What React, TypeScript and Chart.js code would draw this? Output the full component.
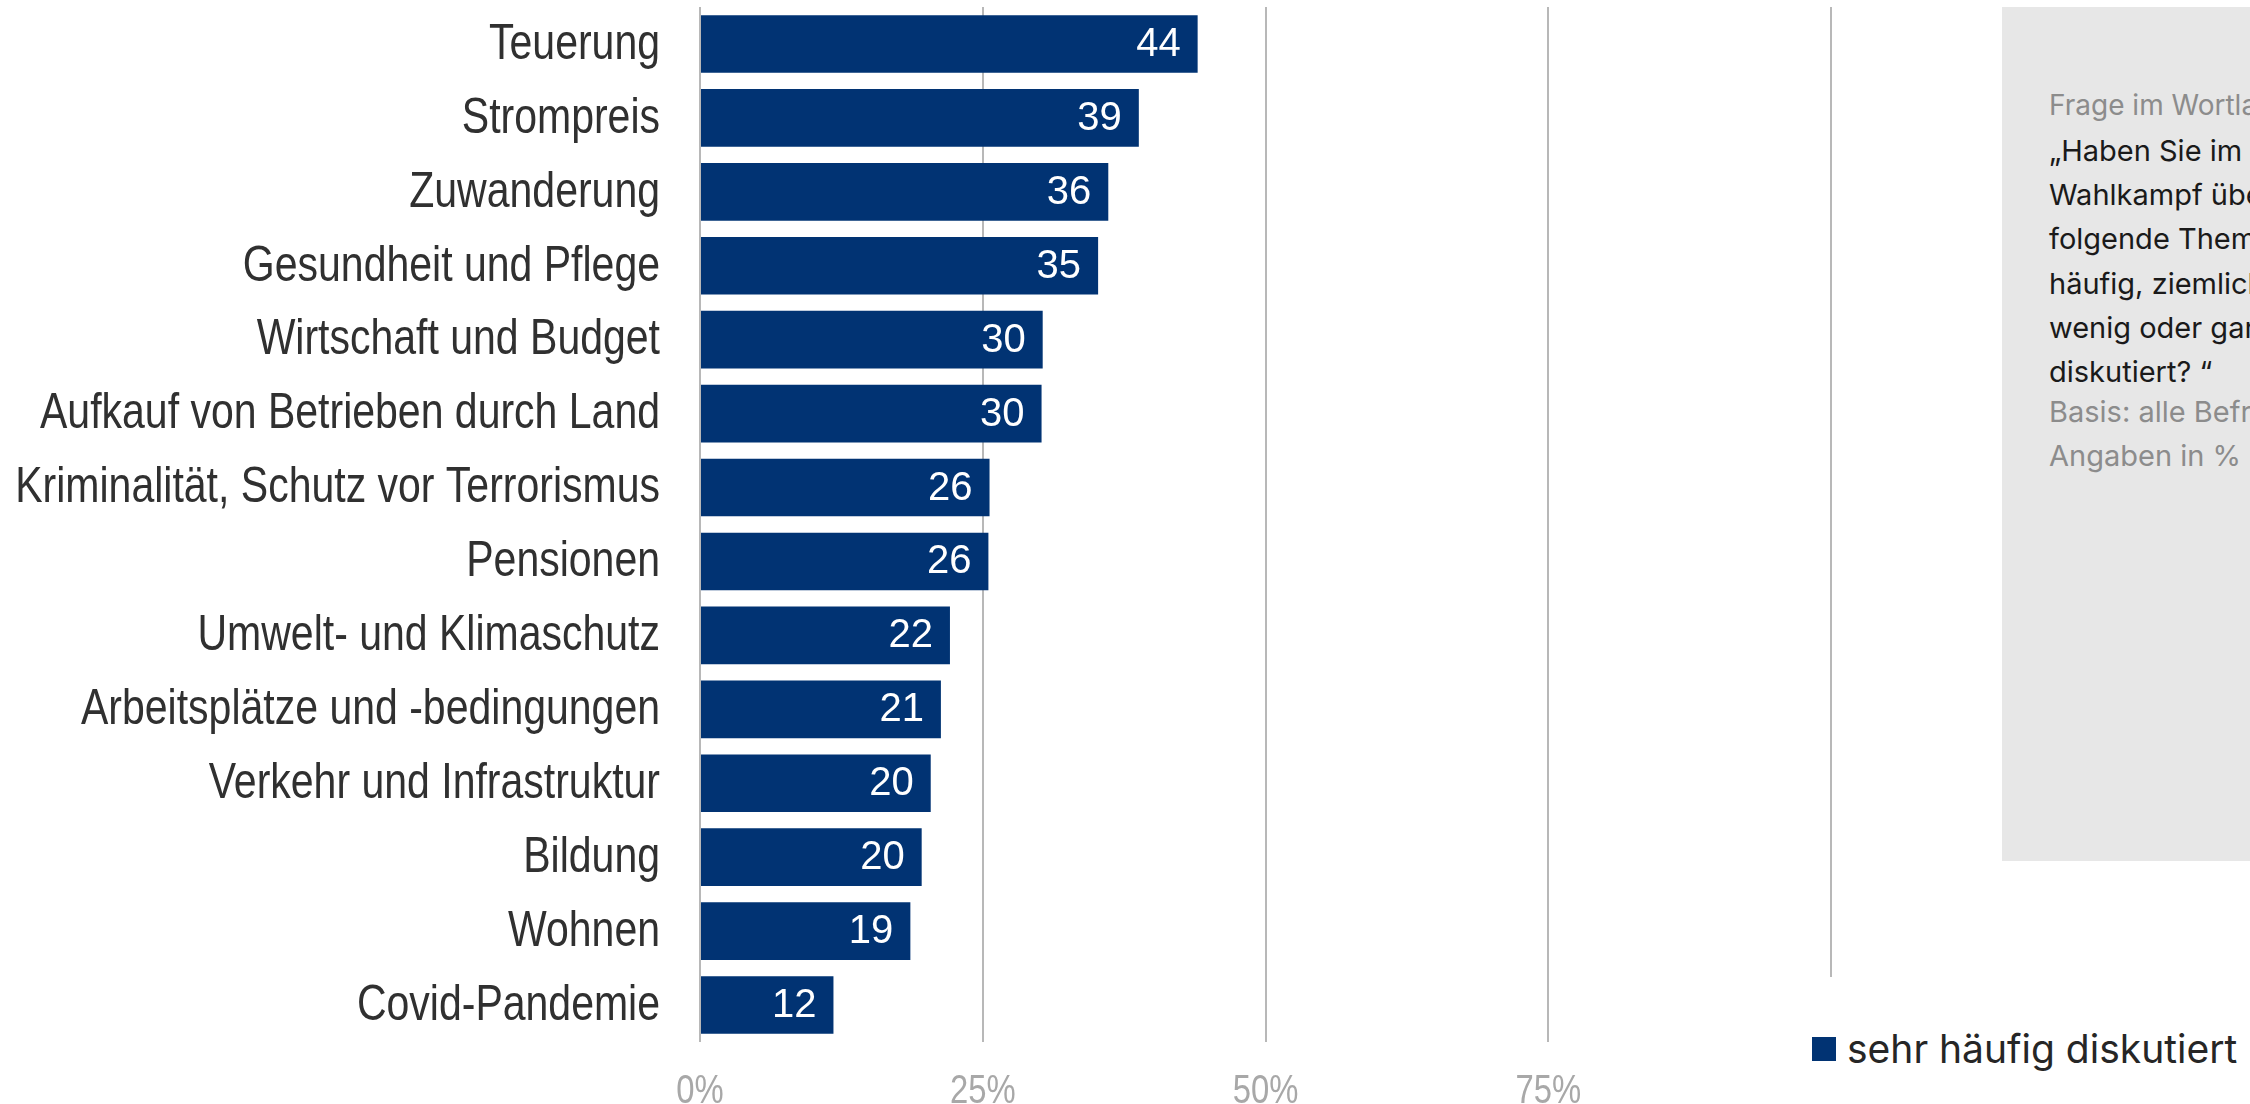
import React, { useEffect, useRef } from 'react';
import { Chart, registerables } from 'chart.js';

Chart.register(...registerables);

// ---- data ----
const categories = [
  'Teuerung',
  'Strompreis',
  'Zuwanderung',
  'Gesundheit und Pflege',
  'Wirtschaft und Budget',
  'Aufkauf von Betrieben durch Land',
  'Kriminalität, Schutz vor Terrorismus',
  'Pensionen',
  'Umwelt- und Klimaschutz',
  'Arbeitsplätze und -bedingungen',
  'Verkehr und Infrastruktur',
  'Bildung',
  'Wohnen',
  'Covid-Pandemie',
];
const values = [44.0, 38.8, 36.1, 35.2, 30.3, 30.2, 25.6, 25.5, 22.1, 21.3, 20.4, 19.6, 18.6, 11.8];
const xTickValues = [0, 25, 50, 75, 100];
const seriesLabel = 'sehr häufig diskutiert';
const noteTitle = 'Frage im Wortlaut:';
const noteQuestion = [
  '„Haben Sie im',
  'Wahlkampf über',
  'folgende Themen sehr',
  'häufig, ziemlich häufig,',
  'wenig oder gar nicht',
  'diskutiert? “',
];
const noteBasis = ['Basis: alle Befragten,', 'Angaben in %'];

// ---- style ----
const BAR = '#013373';
const GRID = '#b8b8b8';
const SANS = '"Liberation Sans", Arial, sans-serif';
const NOTE_FONT = 'Inter, "Open Sans", sans-serif';
const NARROW_SCALE = 0.82;

const valueLabels = {
  id: 'valueLabels',
  afterDatasetsDraw(chart: any) {
    const ctx = chart.ctx;
    const meta = chart.getDatasetMeta(0);
    ctx.save();
    ctx.font = `40px ${SANS}`;
    ctx.fillStyle = '#ffffff';
    ctx.textAlign = 'right';
    ctx.textBaseline = 'middle';
    meta.data.forEach((bar: any, i: number) => {
      ctx.fillText(String(Math.round(values[i])), bar.x - 17, bar.y + 1);
    });
    ctx.restore();
  },
};

// condensed axis labels (Arial-Narrow look)
const axisLabels = {
  id: 'axisLabels',
  afterDraw(chart: any) {
    const { ctx, chartArea, scales } = chart;
    const ys = scales.y;
    const xs = scales.x;
    ctx.save();
    ctx.textBaseline = 'middle';
    ctx.fillStyle = '#303030';
    ctx.font = `50px ${SANS}`;
    ctx.textAlign = 'right';
    categories.forEach((c, i) => {
      ctx.save();
      ctx.translate(chartArea.left - 40, ys.getPixelForTick(i) + 1);
      ctx.scale(NARROW_SCALE, 1);
      ctx.fillText(c, 0, 0);
      ctx.restore();
    });
    ctx.fillStyle = '#a8a8a8';
    ctx.font = `40px ${SANS}`;
    ctx.textAlign = 'center';
    xTickValues.forEach((v) => {
      ctx.save();
      ctx.translate(xs.getPixelForValue(v), chartArea.bottom + 50);
      ctx.scale(NARROW_SCALE, 1);
      ctx.fillText(v + '%', 0, 0);
      ctx.restore();
    });
    ctx.restore();
  },
};

export default function App() {
  const canvasRef = useRef<HTMLCanvasElement | null>(null);

  useEffect(() => {
    const canvas = canvasRef.current;
    if (!canvas) return;
    const chart = new Chart(canvas, {
      type: 'bar',
      data: {
        labels: categories,
        datasets: [
          {
            label: seriesLabel,
            data: values,
            backgroundColor: BAR,
            barPercentage: 0.78,
            categoryPercentage: 1,
          },
        ],
      },
      options: {
        indexAxis: 'y',
        responsive: false,
        animation: false,
        layout: { padding: { left: 0, right: 419, top: 7, bottom: 0 } },
        plugins: { legend: { display: false }, tooltip: { enabled: false } },
        scales: {
          x: {
            min: xTickValues[0],
            max: xTickValues[xTickValues.length - 1],
            afterBuildTicks: (s: any) => {
              s.ticks = xTickValues.map((v) => ({ value: v }));
            },
            grid: { color: GRID, lineWidth: 2, drawTicks: false },
            border: { display: false },
            ticks: { display: false },
            afterFit: (s: any) => {
              s.height = 62;
            },
          },
          y: {
            grid: { display: false, drawTicks: false },
            border: { display: false },
            ticks: { display: false, autoSkip: false },
            afterFit: (s: any) => {
              s.width = 700;
            },
          },
        },
      },
      plugins: [valueLabels, axisLabels],
    });
    return () => chart.destroy();
  }, []);

  const lineStyle = (top: number, size: number, color: string): React.CSSProperties => ({
    position: 'absolute',
    left: 47,
    top,
    height: 44,
    lineHeight: '44px',
    fontSize: size,
    color,
    whiteSpace: 'nowrap',
    fontFamily: NOTE_FONT,
  });

  return (
    <div style={{ position: 'fixed', left: 0, top: 0, width: 2250, height: 1104, background: '#fff', overflow: 'hidden' }}>
      <canvas ref={canvasRef} width={2250} height={1104} style={{ position: 'absolute', left: 0, top: 0, width: 2250, height: 1104 }} />
      {/* legend (white box over the axis corner) */}
      <div style={{ position: 'absolute', left: 1755, top: 977, width: 495, height: 127, background: '#fff' }}>
        <div style={{ position: 'absolute', left: 57, top: 60, width: 24, height: 24, background: BAR }} />
        <div
          style={{
            position: 'absolute',
            left: 92,
            top: 48,
            lineHeight: '48px',
            fontSize: 39,
            color: '#262626',
            fontFamily: NOTE_FONT,
            whiteSpace: 'nowrap',
          }}
        >
          {seriesLabel}
        </div>
      </div>
      {/* note box */}
      <div style={{ position: 'absolute', left: 2002, top: 7, width: 248, height: 854, background: '#e7e7e7', overflow: 'hidden' }}>
        <div style={lineStyle(76, 28, '#8c8c8c')}>{noteTitle}</div>
        {noteQuestion.map((t, i) => (
          <div key={i} style={lineStyle(122 + i * 44.2, 29, '#1a1a1a')}>
            {t}
          </div>
        ))}
        {noteBasis.map((t, i) => (
          <div key={'b' + i} style={lineStyle(383 + i * 44, 29, '#8c8c8c')}>
            {t}
          </div>
        ))}
      </div>
    </div>
  );
}
